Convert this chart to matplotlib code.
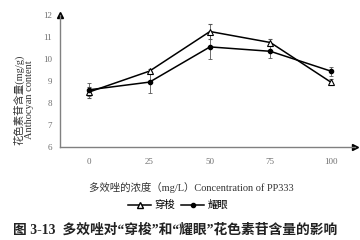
import numpy as np
import matplotlib.pyplot as plt
from matplotlib.lines import Line2D

plt.rcParams['font.family'] = ['Liberation Serif', 'Noto Sans CJK SC', 'DejaVu Sans']

# 数据
conc = [0, 25, 50, 75, 100]
chuansuo = [8.5, 9.45, 11.25, 10.75, 8.95]
chuansuo_err = [0.25, 0.1, 0.35, 0.15, 0.15]
yaoyan = [8.6, 8.95, 10.55, 10.35, 9.45]
yaoyan_err = [0.3, 0.5, 0.55, 0.3, 0.2]
yticks = [6, 7, 8, 9, 10, 11, 12]

fig = plt.figure(figsize=(3.6, 2.4), dpi=100)
ax = fig.add_axes([0.167, 0.3875, 0.819, 0.55])

ax.errorbar(conc, chuansuo, yerr=chuansuo_err, color='black', lw=1.1,
            marker='^', ms=4, mfc='white', mec='black', mew=0.8,
            ecolor='#555555', elinewidth=0.6, capsize=1.5, capthick=0.6)
ax.errorbar(conc, yaoyan, yerr=yaoyan_err, color='black', lw=1.1,
            marker='o', ms=3, mfc='black', mec='black',
            ecolor='#555555', elinewidth=0.6, capsize=1.5, capthick=0.6)

ax.set_xlim(-12, 110)
ax.set_ylim(6, 12)
ax.set_xticks(conc)
ax.set_yticks(yticks)
ax.tick_params(length=0, labelsize=6.5, labelcolor='#707070')
ax.tick_params(axis='y', pad=6)
ax.tick_params(axis='x', pad=8)
for s in ['top', 'right']:
    ax.spines[s].set_visible(False)
for s in ['left', 'bottom']:
    ax.spines[s].set_color('#808080')
    ax.spines[s].set_linewidth(1.0)
ax.plot(1, 0, '>', color='black', ms=4, transform=ax.transAxes, clip_on=False)
ax.plot(0, 1, '^', color='black', ms=4, transform=ax.transAxes, clip_on=False)

ax.set_ylabel('花色素苷含量(mg/g)\nAnthocyan content', fontsize=7.5,
              color='#333333', linespacing=1.0)
ax.yaxis.set_label_coords(-0.09, 0.36)
ax.set_xlabel('多效唑的浓度（mg/L）Concentration of PP333', fontsize=7.5,
              color='#333333')
ax.xaxis.set_label_coords(0.444, -0.265)

handles = [
    Line2D([], [], color='black', lw=1.1, marker='^', ms=4, mfc='white', mec='black'),
    Line2D([], [], color='black', lw=1.1, marker='o', ms=3, mfc='black'),
]
fig.legend(handles, ['穿梭', '耀眼'], loc='center', bbox_to_anchor=(0.495, 0.145),
           ncol=2, frameon=False, fontsize=7.5, handlelength=2.2, columnspacing=0.6,
           handletextpad=0.3)

fig.text(0.035, 0.04, '图 3-13  多效唑对“穿梭”和“耀眼”花色素苷含量的影响',
         fontsize=9.9, fontweight='bold', color='#222222', va='center')

fig.savefig('out.png', dpi=100)
